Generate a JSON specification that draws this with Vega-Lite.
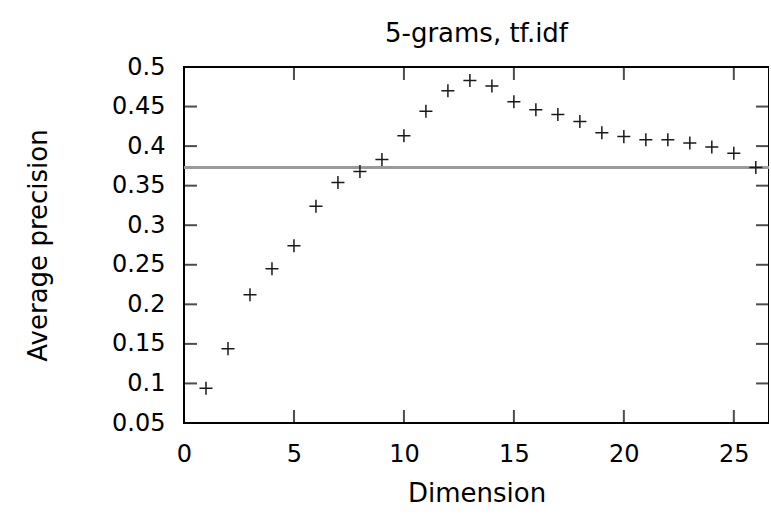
{
  "$schema": "https://vega.github.io/schema/vega-lite/v6.json",
  "autosize": {"type": "none"},
  "padding": {"left": 184, "top": 67, "right": 0, "bottom": 91},
  "width": 585,
  "height": 356,
  "background": "white",
  "config": {
    "view": {"stroke": "black", "strokeWidth": 2},
    "font": "DejaVu Sans",
    "axis": {
      "grid": false,
      "domain": false,
      "ticks": false,
      "labelColor": "black",
      "labelFont": "DejaVu Sans",
      "labelFontSize": 24,
      "titleFont": "DejaVu Sans",
      "titleFontSize": 26,
      "titleFontWeight": "normal",
      "titleColor": "black"
    }
  },
  "title": {
    "text": "5-grams, tf.idf",
    "font": "DejaVu Sans",
    "fontSize": 26,
    "fontWeight": "normal",
    "color": "black",
    "offset": 8
  },
  "datasets": {
    "points": [
      {"dim": 1, "ap": 0.094},
      {"dim": 2, "ap": 0.144},
      {"dim": 3, "ap": 0.212},
      {"dim": 4, "ap": 0.245},
      {"dim": 5, "ap": 0.274},
      {"dim": 6, "ap": 0.324},
      {"dim": 7, "ap": 0.354},
      {"dim": 8, "ap": 0.368},
      {"dim": 9, "ap": 0.383},
      {"dim": 10, "ap": 0.413},
      {"dim": 11, "ap": 0.444},
      {"dim": 12, "ap": 0.470},
      {"dim": 13, "ap": 0.483},
      {"dim": 14, "ap": 0.476},
      {"dim": 15, "ap": 0.456},
      {"dim": 16, "ap": 0.446},
      {"dim": 17, "ap": 0.440},
      {"dim": 18, "ap": 0.431},
      {"dim": 19, "ap": 0.417},
      {"dim": 20, "ap": 0.412},
      {"dim": 21, "ap": 0.408},
      {"dim": 22, "ap": 0.408},
      {"dim": 23, "ap": 0.404},
      {"dim": 24, "ap": 0.399},
      {"dim": 25, "ap": 0.391},
      {"dim": 26, "ap": 0.373}
    ],
    "xticks": [{"t": 0}, {"t": 5}, {"t": 10}, {"t": 15}, {"t": 20}, {"t": 25}],
    "yticks": [{"t": 0.05}, {"t": 0.1}, {"t": 0.15}, {"t": 0.2}, {"t": 0.25}, {"t": 0.3}, {"t": 0.35}, {"t": 0.4}, {"t": 0.45}, {"t": 0.5}]
  },
  "data": {"name": "points"},
  "layer": [
    {
      "mark": {"type": "rule", "color": "#999999", "strokeWidth": 2},
      "encoding": {
        "y": {"datum": 0.373, "type": "quantitative",
          "scale": {"domain": [0.05, 0.5], "nice": false, "zero": false},
          "axis": {"title": "Average precision", "format": ".2~f", "values": [0.05, 0.1, 0.15, 0.2, 0.25, 0.3, 0.35, 0.4, 0.45, 0.5], "labelPadding": 19, "titlePadding": 60, "labelFlush": false}}
      }
    },
    {
      "mark": {"type": "point", "shape": "M-1,0H1M0,-1V1", "size": 170, "filled": false, "stroke": "#1a1a1a", "strokeWidth": 1.5, "opacity": 1},
      "encoding": {
        "x": {
          "field": "dim", "type": "quantitative",
          "scale": {"domain": [0, 26.6], "nice": false, "zero": false},
          "axis": {"title": "Dimension", "values": [0, 5, 10, 15, 20, 25], "labelPadding": 19, "titlePadding": 14, "labelFlush": false}
        },
        "y": {
          "field": "ap", "type": "quantitative",
          "scale": {"domain": [0.05, 0.5], "nice": false, "zero": false},
          "axis": {"title": "Average precision", "format": ".2~f", "values": [0.05, 0.1, 0.15, 0.2, 0.25, 0.3, 0.35, 0.4, 0.45, 0.5], "labelPadding": 19, "titlePadding": 60, "labelFlush": false}
        }
      }
    },
    {
      "data": {"name": "xticks"},
      "mark": {"type": "tick", "orient": "vertical", "size": 13, "thickness": 2, "color": "black", "yOffset": -6.5},
      "encoding": {
        "x": {"field": "t", "type": "quantitative",
          "axis": {"title": "Dimension", "values": [0, 5, 10, 15, 20, 25], "labelPadding": 19, "titlePadding": 14, "labelFlush": false}},
        "y": {"datum": 0.05, "type": "quantitative",
          "axis": {"title": "Average precision", "format": ".2~f", "values": [0.05, 0.1, 0.15, 0.2, 0.25, 0.3, 0.35, 0.4, 0.45, 0.5], "labelPadding": 19, "titlePadding": 60, "labelFlush": false}}
      }
    },
    {
      "data": {"name": "xticks"},
      "mark": {"type": "tick", "orient": "vertical", "size": 13, "thickness": 2, "color": "black", "yOffset": 6.5},
      "encoding": {
        "x": {"field": "t", "type": "quantitative",
          "axis": {"title": "Dimension", "values": [0, 5, 10, 15, 20, 25], "labelPadding": 19, "titlePadding": 14, "labelFlush": false}},
        "y": {"datum": 0.5, "type": "quantitative",
          "axis": {"title": "Average precision", "format": ".2~f", "values": [0.05, 0.1, 0.15, 0.2, 0.25, 0.3, 0.35, 0.4, 0.45, 0.5], "labelPadding": 19, "titlePadding": 60, "labelFlush": false}}
      }
    },
    {
      "data": {"name": "yticks"},
      "mark": {"type": "tick", "orient": "horizontal", "size": 13, "thickness": 2, "color": "black", "xOffset": 6.5},
      "encoding": {
        "y": {"field": "t", "type": "quantitative",
          "axis": {"title": "Average precision", "format": ".2~f", "values": [0.05, 0.1, 0.15, 0.2, 0.25, 0.3, 0.35, 0.4, 0.45, 0.5], "labelPadding": 19, "titlePadding": 60, "labelFlush": false}},
        "x": {"datum": 0, "type": "quantitative",
          "axis": {"title": "Dimension", "values": [0, 5, 10, 15, 20, 25], "labelPadding": 19, "titlePadding": 14, "labelFlush": false}}
      }
    },
    {
      "data": {"name": "yticks"},
      "mark": {"type": "tick", "orient": "horizontal", "size": 13, "thickness": 2, "color": "black", "xOffset": -6.5},
      "encoding": {
        "y": {"field": "t", "type": "quantitative",
          "axis": {"title": "Average precision", "format": ".2~f", "values": [0.05, 0.1, 0.15, 0.2, 0.25, 0.3, 0.35, 0.4, 0.45, 0.5], "labelPadding": 19, "titlePadding": 60, "labelFlush": false}},
        "x": {"datum": 26.6, "type": "quantitative",
          "axis": {"title": "Dimension", "values": [0, 5, 10, 15, 20, 25], "labelPadding": 19, "titlePadding": 14, "labelFlush": false}}
      }
    }
  ]
}
